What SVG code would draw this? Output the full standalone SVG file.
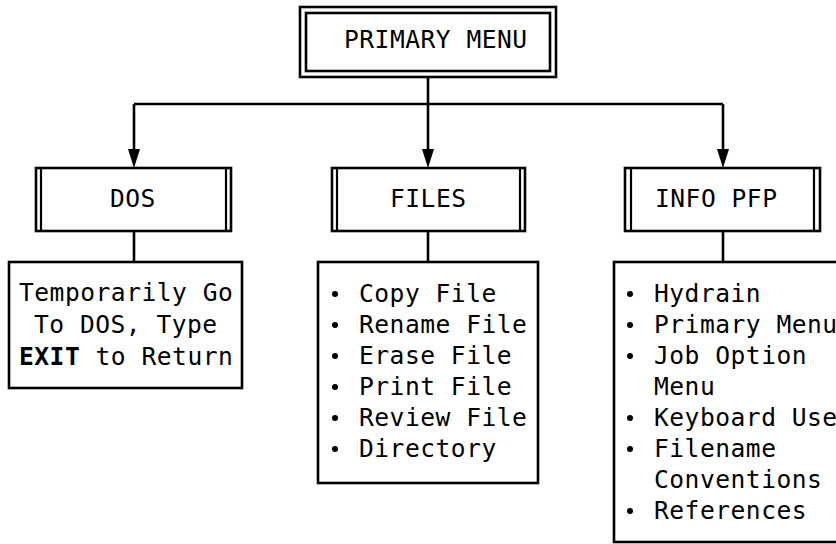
<svg xmlns="http://www.w3.org/2000/svg" width="836" height="544" viewBox="0 0 836 544">
<defs>
<style>
.box{fill:#fff;stroke:#000;stroke-width:2.6}
.bar{stroke:#000;stroke-width:2.2}
.ln{stroke:#000;stroke-width:2.6;fill:none}
.t{font-family:"DejaVu Sans Mono","Liberation Mono",monospace;font-size:24.6px;letter-spacing:0.5px;fill:#000}
.b{font-weight:bold}
.dot{fill:#000}
.ah{fill:#000}
</style>
</defs>
<rect width="836" height="544" fill="#fff"/>
<g id="connectors">
<path class="ln" d="M428,77 V104"/>
<path class="ln" d="M134,104 H723"/>
<path class="ln" d="M134,104 V150"/>
<path class="ln" d="M428,104 V150"/>
<path class="ln" d="M723,104 V150"/>
<path class="ah" d="M128,149 L140,149 L134,168 Z"/>
<path class="ah" d="M422,149 L434,149 L428,168 Z"/>
<path class="ah" d="M717,149 L729,149 L723,168 Z"/>
<path class="ln" d="M134,231 V262"/>
<path class="ln" d="M428,231 V262"/>
<path class="ln" d="M723,231 V262"/>
</g>
<g id="primary-menu">
<rect class="box" x="300" y="7" width="256" height="70" stroke-width="3"/>
<rect class="box" x="306" y="13" width="244" height="58"/>
<text class="t" x="344" y="48">PRIMARY MENU</text>
</g>
<g id="dos">
<rect class="box" x="36" y="168" width="195" height="63"/>
<line class="bar" x1="41" y1="168" x2="41" y2="231"/>
<line class="bar" x1="226" y1="168" x2="226" y2="231"/>
<text class="t" x="110" y="207">DOS</text>
</g>
<g id="files">
<rect class="box" x="332" y="168" width="193" height="63"/>
<line class="bar" x1="337" y1="168" x2="337" y2="231"/>
<line class="bar" x1="520" y1="168" x2="520" y2="231"/>
<text class="t" x="390" y="207">FILES</text>
</g>
<g id="info-pfp">
<rect class="box" x="625" y="168" width="195" height="63"/>
<line class="bar" x1="631" y1="168" x2="631" y2="231"/>
<line class="bar" x1="814" y1="168" x2="814" y2="231"/>
<text class="t" x="655" y="207">INFO PFP</text>
</g>
<g id="dos-detail">
<rect class="box" x="9" y="262" width="233" height="126"/>
<text class="t" x="19" y="301">Temporarily Go</text>
<text class="t" x="34" y="333">To DOS, Type</text>
<text class="t" x="19" y="365"><tspan class="b">EXIT</tspan> to Return</text>
</g>
<g id="files-detail">
<rect class="box" x="318" y="262" width="220" height="221"/>
<circle class="dot" cx="335" cy="294" r="3"/>
<circle class="dot" cx="335" cy="325" r="3"/>
<circle class="dot" cx="335" cy="356" r="3"/>
<circle class="dot" cx="335" cy="387" r="3"/>
<circle class="dot" cx="335" cy="418" r="3"/>
<circle class="dot" cx="335" cy="449" r="3"/>
<text class="t" x="359" y="302">Copy File</text>
<text class="t" x="359" y="333">Rename File</text>
<text class="t" x="359" y="364">Erase File</text>
<text class="t" x="359" y="395">Print File</text>
<text class="t" x="359" y="426">Review File</text>
<text class="t" x="359" y="457">Directory</text>
</g>
<g id="info-detail">
<rect class="box" x="614" y="262" width="240" height="280"/>
<circle class="dot" cx="630" cy="294" r="3"/>
<circle class="dot" cx="630" cy="325" r="3"/>
<circle class="dot" cx="630" cy="356" r="3"/>
<circle class="dot" cx="630" cy="418" r="3"/>
<circle class="dot" cx="630" cy="449" r="3"/>
<circle class="dot" cx="630" cy="511" r="3"/>
<text class="t" x="654" y="302">Hydrain</text>
<text class="t" x="654" y="333">Primary Menu</text>
<text class="t" x="654" y="364">Job Option</text>
<text class="t" x="654" y="395">Menu</text>
<text class="t" x="654" y="426">Keyboard Use</text>
<text class="t" x="654" y="457">Filename</text>
<text class="t" x="654" y="488">Conventions</text>
<text class="t" x="654" y="519">References</text>
</g>
</svg>
